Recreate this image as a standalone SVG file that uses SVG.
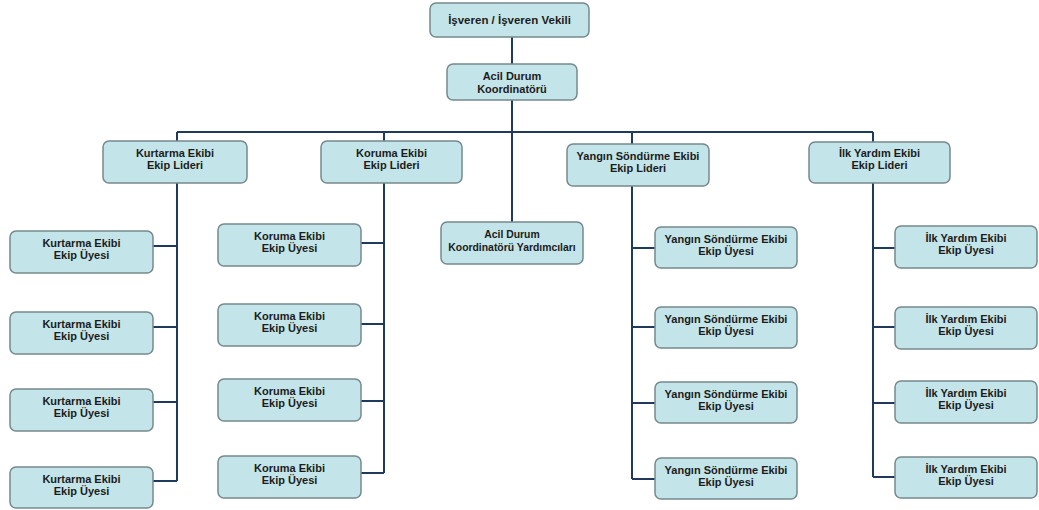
<svg xmlns="http://www.w3.org/2000/svg" width="1039" height="510" viewBox="0 0 1039 510">
<style>
.b{fill:#c3e4e8;stroke:#76898c;stroke-width:1.5}
.t{font-family:"Liberation Sans",Arial,sans-serif;font-weight:bold;font-size:11px;fill:#1c1c1c;text-anchor:middle}
.s{font-size:10.4px}
.h{font-size:11.5px}
.c{fill:none;stroke:#1f3a5c;stroke-width:2}
</style>
<rect width="1039" height="510" fill="#ffffff"/>
<g id="connectors">
<path class="c" d="M512 37V64M512 100V222M177 132H873M177 132V141M384 132V141M632 132V144M873 132V142"/>
<path class="c" d="M177 183V481M153 246H177M153 327H177M153 402H177M153 481H177"/>
<path class="c" d="M384 183V473M361 243H384M361 324H384M361 401H384M361 473H384"/>
<path class="c" d="M632 186V479M632 248H655M632 327H655M632 403H655M632 479H655"/>
<path class="c" d="M873 183V477M873 248H895M873 327H895M873 403H895M873 477H895"/>
</g>
<g id="n-isveren"><rect class="b" x="430" y="3" width="159" height="34" rx="6"/><text class="t h" x="509.5" y="24">İşveren / İşveren Vekili</text></g>
<g id="n-koordinator"><rect class="b" x="447" y="64" width="130" height="36" rx="6"/><text class="t" x="512" y="80">Acil Durum</text><text class="t" x="512" y="93">Koordinatörü</text></g>
<g id="n-kurtarma-lider"><rect class="b" x="103" y="141" width="144" height="42" rx="6"/><text class="t" x="175" y="157">Kurtarma Ekibi</text><text class="t" x="175" y="169">Ekip Lideri</text></g>
<g id="n-koruma-lider"><rect class="b" x="321" y="141" width="141" height="42" rx="6"/><text class="t" x="391.5" y="157">Koruma Ekibi</text><text class="t" x="391.5" y="169">Ekip Lideri</text></g>
<g id="n-yangin-lider"><rect class="b" x="567" y="144" width="142" height="42" rx="6"/><text class="t" x="638" y="160">Yangın Söndürme Ekibi</text><text class="t" x="638" y="172">Ekip Lideri</text></g>
<g id="n-ilkyardim-lider"><rect class="b" x="809" y="142" width="141" height="41" rx="6"/><text class="t" x="879.5" y="157">İlk Yardım Ekibi</text><text class="t" x="879.5" y="169">Ekip Lideri</text></g>
<g id="n-yardimcilar"><rect class="b" x="441" y="222" width="142" height="42" rx="6"/><text class="t s" x="512" y="238">Acil Durum</text><text class="t s" x="512" y="251">Koordinatörü Yardımcıları</text></g>

<g id="n-kurtarma-1"><rect class="b" x="10" y="231" width="143" height="42" rx="6"/><text class="t" x="81.5" y="247">Kurtarma Ekibi</text><text class="t" x="81.5" y="259">Ekip Üyesi</text></g>
<g id="n-kurtarma-2"><rect class="b" x="10" y="312" width="143" height="42" rx="6"/><text class="t" x="81.5" y="328">Kurtarma Ekibi</text><text class="t" x="81.5" y="340">Ekip Üyesi</text></g>
<g id="n-kurtarma-3"><rect class="b" x="10" y="389" width="143" height="42" rx="6"/><text class="t" x="81.5" y="405">Kurtarma Ekibi</text><text class="t" x="81.5" y="417">Ekip Üyesi</text></g>
<g id="n-kurtarma-4"><rect class="b" x="10" y="467" width="143" height="41" rx="6"/><text class="t" x="81.5" y="483">Kurtarma Ekibi</text><text class="t" x="81.5" y="495">Ekip Üyesi</text></g>

<g id="n-koruma-1"><rect class="b" x="218" y="224" width="143" height="42" rx="6"/><text class="t" x="289.5" y="240">Koruma Ekibi</text><text class="t" x="289.5" y="252">Ekip Üyesi</text></g>
<g id="n-koruma-2"><rect class="b" x="218" y="304" width="143" height="42" rx="6"/><text class="t" x="289.5" y="320">Koruma Ekibi</text><text class="t" x="289.5" y="332">Ekip Üyesi</text></g>
<g id="n-koruma-3"><rect class="b" x="218" y="379" width="143" height="42" rx="6"/><text class="t" x="289.5" y="395">Koruma Ekibi</text><text class="t" x="289.5" y="407">Ekip Üyesi</text></g>
<g id="n-koruma-4"><rect class="b" x="218" y="456" width="143" height="42" rx="6"/><text class="t" x="289.5" y="472">Koruma Ekibi</text><text class="t" x="289.5" y="484">Ekip Üyesi</text></g>

<g id="n-yangin-1"><rect class="b" x="655" y="227" width="142" height="41" rx="6"/><text class="t" x="726" y="243">Yangın Söndürme Ekibi</text><text class="t" x="726" y="255">Ekip Üyesi</text></g>
<g id="n-yangin-2"><rect class="b" x="655" y="307" width="142" height="41" rx="6"/><text class="t" x="726" y="323">Yangın Söndürme Ekibi</text><text class="t" x="726" y="335">Ekip Üyesi</text></g>
<g id="n-yangin-3"><rect class="b" x="655" y="382" width="142" height="41" rx="6"/><text class="t" x="726" y="398">Yangın Söndürme Ekibi</text><text class="t" x="726" y="410">Ekip Üyesi</text></g>
<g id="n-yangin-4"><rect class="b" x="655" y="458" width="142" height="41" rx="6"/><text class="t" x="726" y="474">Yangın Söndürme Ekibi</text><text class="t" x="726" y="486">Ekip Üyesi</text></g>

<g id="n-ilkyardim-1"><rect class="b" x="895" y="226" width="142" height="42" rx="6"/><text class="t" x="966" y="242">İlk Yardım Ekibi</text><text class="t" x="966" y="254">Ekip Üyesi</text></g>
<g id="n-ilkyardim-2"><rect class="b" x="895" y="307" width="142" height="42" rx="6"/><text class="t" x="966" y="323">İlk Yardım Ekibi</text><text class="t" x="966" y="335">Ekip Üyesi</text></g>
<g id="n-ilkyardim-3"><rect class="b" x="895" y="381" width="142" height="42" rx="6"/><text class="t" x="966" y="397">İlk Yardım Ekibi</text><text class="t" x="966" y="409">Ekip Üyesi</text></g>
<g id="n-ilkyardim-4"><rect class="b" x="895" y="457" width="142" height="41" rx="6"/><text class="t" x="966" y="473">İlk Yardım Ekibi</text><text class="t" x="966" y="485">Ekip Üyesi</text></g>
</svg>
